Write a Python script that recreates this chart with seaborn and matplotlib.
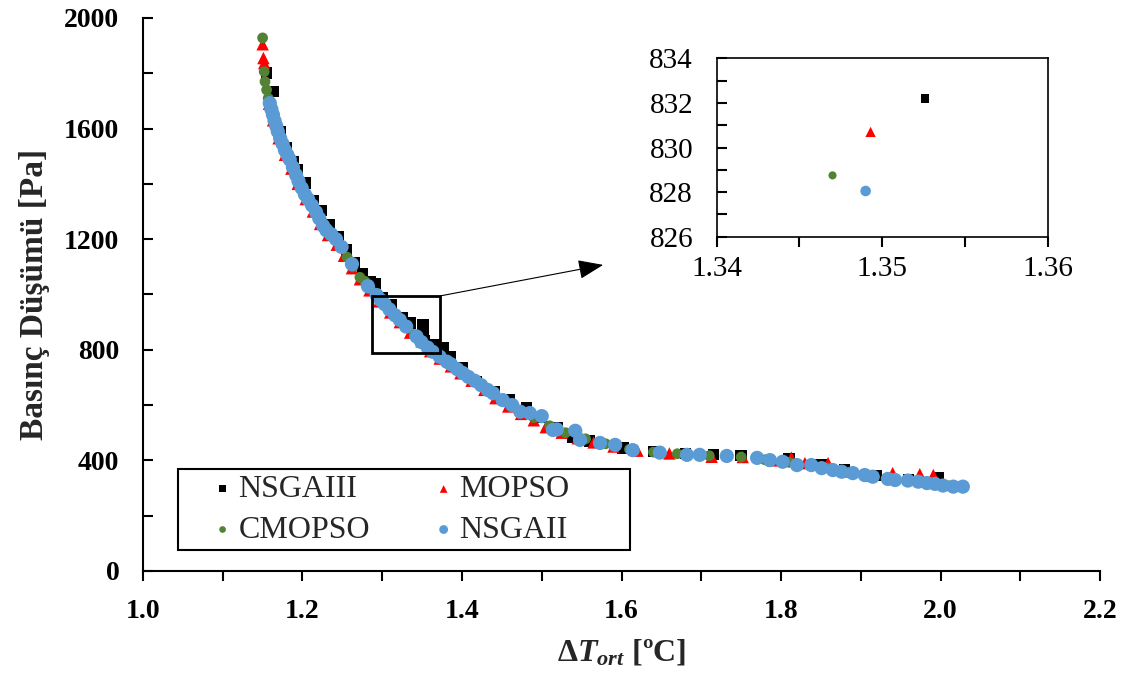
import matplotlib
matplotlib.use("Agg")
import matplotlib.pyplot as plt
from matplotlib.patches import Rectangle
from matplotlib.ticker import MultipleLocator, FormatStrFormatter
import pandas as pd
import seaborn as sns

# Pareto fronts: mean temperature difference [ºC] vs pressure drop [Pa]
nsga3_dt = [1.155, 1.163, 1.172, 1.180, 1.188, 1.194, 1.203, 1.214, 1.224, 1.234,
            1.245, 1.255, 1.265, 1.275, 1.285, 1.291, 1.300, 1.312, 1.325, 1.335,
            1.3526, 1.351, 1.351, 1.365, 1.376, 1.385, 1.400, 1.418, 1.440, 1.460,
            1.481, 1.500, 1.520, 1.539, 1.560, 1.602, 1.640, 1.680, 1.715, 1.750,
            1.810, 1.850, 1.880, 1.920, 1.960, 1.997]
nsga3_dp = [1801, 1734, 1590, 1530, 1480, 1450, 1403, 1340, 1305, 1251,
            1210, 1161, 1115, 1075, 1046, 1041, 990, 962, 915, 897,
            832.2, 890, 854, 818, 806, 774, 735, 685, 650, 618,
            589, 555, 520, 485, 470, 445, 433, 425, 420, 418,
            405, 385, 368, 345, 330, 336]

mopso_dt = [1.150, 1.151, 1.152, 1.158, 1.163, 1.170, 1.178, 1.186, 1.194, 1.204,
            1.213, 1.222, 1.232, 1.243, 1.252, 1.262, 1.272, 1.284, 1.296, 1.310,
            1.322, 1.335, 1.3493, 1.360, 1.372, 1.386, 1.398, 1.412, 1.428, 1.442,
            1.458, 1.474, 1.490, 1.505, 1.525, 1.545, 1.565, 1.590, 1.620, 1.660,
            1.713, 1.752, 1.790, 1.813, 1.830, 1.859, 1.880, 1.910, 1.940, 1.974,
            1.991]
mopso_dp = [1905, 1855, 1837, 1690, 1630, 1565, 1505, 1455, 1400, 1345,
            1300, 1255, 1215, 1180, 1140, 1095, 1055, 1015, 975, 935,
            900, 862, 830.7, 795, 768, 740, 715, 688, 655, 625,
            595, 568, 545, 520, 500, 480, 465, 450, 435, 425,
            413, 412, 400, 410, 390, 390, 360, 345, 354, 350,
            347]

cmopso_dt = [1.150, 1.152, 1.153, 1.155, 1.157, 1.160, 1.166, 1.174, 1.182, 1.190,
             1.198, 1.208, 1.215, 1.225, 1.238, 1.248, 1.256, 1.263, 1.272, 1.278,
             1.285, 1.291, 1.305, 1.328, 1.340, 1.347, 1.362, 1.375, 1.390, 1.405,
             1.420, 1.437, 1.455, 1.475, 1.490, 1.510, 1.530, 1.555, 1.580, 1.610,
             1.640, 1.670, 1.710, 1.750, 1.780, 1.810, 1.840, 1.860, 1.885, 1.910,
             1.935, 1.960, 1.990, 2.010]
cmopso_dp = [1928, 1806, 1770, 1740, 1710, 1680, 1615, 1550, 1495, 1445,
             1393, 1342, 1310, 1262, 1210, 1176, 1135, 1100, 1062, 1048,
             1020, 1002, 958, 888, 855, 828.75, 796, 768, 738, 708,
             678, 647, 612, 576, 555, 525, 500, 478, 460, 440,
             430, 424, 417, 412, 402, 393, 383, 372, 357, 343,
             333, 324, 315, 308]

nsga2_dt = [1.159, 1.161, 1.163, 1.165, 1.167, 1.169, 1.172, 1.175, 1.178, 1.181,
            1.184, 1.188, 1.192, 1.195, 1.199, 1.203, 1.207, 1.212, 1.217, 1.221,
            1.226, 1.230, 1.236, 1.242, 1.249, 1.262, 1.282, 1.293, 1.298, 1.303,
            1.309, 1.316, 1.322, 1.330, 1.343, 1.349, 1.357, 1.363, 1.372, 1.381,
            1.386, 1.394, 1.401, 1.408, 1.416, 1.424, 1.432, 1.439, 1.451, 1.463,
            1.473, 1.485, 1.500, 1.514, 1.519, 1.542, 1.548, 1.573, 1.592, 1.614,
            1.648, 1.682, 1.698, 1.732, 1.770, 1.786, 1.802, 1.820, 1.838, 1.851,
            1.865, 1.876, 1.890, 1.905, 1.915, 1.934, 1.943, 1.959, 1.972, 1.983,
            1.993, 2.003, 2.016, 2.028]
nsga2_dp = [1692, 1670, 1650, 1628, 1610, 1590, 1565, 1545, 1522, 1505,
            1488, 1460, 1432, 1410, 1385, 1362, 1345, 1322, 1298, 1275,
            1248, 1232, 1218, 1200, 1172, 1110, 1030, 998, 980, 965,
            946, 925, 908, 884, 848, 828.05, 808, 793, 775, 757,
            748, 730, 716, 702, 688, 672, 655, 643, 618, 600,
            576, 571, 560, 510, 512, 507, 474, 463, 456, 437,
            428, 420, 420, 416, 409, 401, 395, 383, 383, 372,
            365, 359, 354, 347, 341, 333, 329, 327, 323, 318,
            315, 309, 305, 305]

series_names = ["NSGAIII", "MOPSO", "CMOPSO", "NSGAII"]
series_dt = [nsga3_dt, mopso_dt, cmopso_dt, nsga2_dt]
series_dp = [nsga3_dp, mopso_dp, cmopso_dp, nsga2_dp]

# zoom window shown in the inset and the frame drawn on the main plot
zoom_box = (1.287, 788, 1.373, 995)
inset_xlim = (1.34, 1.36)
inset_ylim = (826, 834)

df = pd.concat(
    [pd.DataFrame({"dT": x, "dP": y, "algo": n})
     for n, x, y in zip(series_names, series_dt, series_dp)],
    ignore_index=True)

sns.set_theme(style="white")
plt.rcParams["font.family"] = ["Liberation Serif", "DejaVu Serif"]
plt.rcParams["mathtext.fontset"] = "custom"
plt.rcParams["mathtext.it"] = "Liberation Serif:italic:bold"
plt.rcParams["mathtext.rm"] = "Liberation Serif:bold"
plt.rcParams["mathtext.bf"] = "Liberation Serif:bold"

styles = {
    "NSGAIII": dict(marker="s", color="#000000", s=66),
    "MOPSO": dict(marker="^", color="#ff0000", s=80),
    "CMOPSO": dict(marker="o", color="#548235", s=60),
    "NSGAII": dict(marker="o", color="#5b9bd5", s=105),
}
inset_sizes = {"NSGAIII": 36, "MOPSO": 55, "CMOPSO": 34, "NSGAII": 58}

fig = plt.figure(figsize=(11.43, 6.79), dpi=100)
ax = fig.add_axes([0.1251, 0.1591, 0.8373, 0.8144])

for name in series_names:
    st = styles[name]
    sns.scatterplot(data=df[df.algo == name], x="dT", y="dP", ax=ax,
                    marker=st["marker"], color=st["color"], s=st["s"],
                    linewidth=0, edgecolor="none", label=name, legend=False)

ax.set_xlim(1.0, 2.2)
ax.set_ylim(0, 2000)
ax.xaxis.set_major_locator(MultipleLocator(0.2))
ax.xaxis.set_minor_locator(MultipleLocator(0.1))
ax.yaxis.set_major_locator(MultipleLocator(400))
ax.yaxis.set_minor_locator(MultipleLocator(200))
ax.xaxis.set_major_formatter(FormatStrFormatter("%.1f"))
for side in ("top", "right"):
    ax.spines[side].set_visible(False)
for side in ("left", "bottom"):
    ax.spines[side].set_linewidth(1.5)
    ax.spines[side].set_color("black")
ax.tick_params(axis="x", which="both", direction="out", length=7, width=1.5,
               bottom=True, pad=13, labelsize=20, colors="black")
ax.tick_params(axis="y", which="both", direction="in", length=7, width=1.5,
               left=True, pad=17, labelsize=20, colors="black")
for lab in ax.get_xticklabels() + ax.get_yticklabels():
    lab.set_fontweight("bold")

ax.set_xlabel(r"$\mathit{ΔT}_{\mathit{ort}}$ [ºC]", fontsize=23,
              fontweight="bold", labelpad=10)
ax.set_ylabel("Basınç Düşümü [Pa]", fontsize=24, fontweight="bold",
              labelpad=10)

# frame marking the zoomed region and the pointer to the inset
x0, y0, x1, y1 = zoom_box
ax.add_patch(Rectangle((x0, y0), x1 - x0, y1 - y0, fill=False,
                       edgecolor="black", linewidth=2, zorder=5))
ax.annotate("", xy=(1.577, 1107), xytext=(x1, y1),
            arrowprops=dict(arrowstyle="-|>,head_length=1.3,head_width=0.5",
                            color="black", linewidth=0.8,
                            shrinkA=0, shrinkB=0), zorder=6)

# legend: rows NSGAIII/MOPSO and CMOPSO/NSGAII inside a plain box
handles, labels = ax.get_legend_handles_labels()
order = [0, 2, 1, 3]
leg = ax.legend([handles[i] for i in order], [labels[i] for i in order],
                ncol=2, loc="upper left",
                bbox_to_anchor=(213 / 1143, 1 - 475 / 679),
                bbox_transform=fig.transFigure, fontsize=23,
                frameon=False, markerscale=0.62,
                handlelength=0.6, handletextpad=0.2, labelspacing=0.35,
                columnspacing=2.0, borderpad=0, borderaxespad=0)
fig.patches.append(Rectangle((178 / 1143, 1 - 550 / 679), 452 / 1143, 81 / 679,
                             transform=fig.transFigure, fill=False,
                             edgecolor="black", linewidth=1.5, zorder=10))

# inset: close-up of the points inside the frame
axi = fig.add_axes([0.627, 0.6514, 0.2896, 0.2627])
for name in series_names:
    st = styles[name]
    sns.scatterplot(data=df[df.algo == name], x="dT", y="dP", ax=axi,
                    marker=st["marker"], color=st["color"],
                    s=inset_sizes[name], linewidth=0, edgecolor="none",
                    legend=False)
axi.set_xlim(*inset_xlim)
axi.set_ylim(*inset_ylim)
axi.xaxis.set_major_locator(MultipleLocator(0.01))
axi.xaxis.set_minor_locator(MultipleLocator(0.005))
axi.yaxis.set_major_locator(MultipleLocator(2))
axi.yaxis.set_minor_locator(MultipleLocator(1))
axi.xaxis.set_major_formatter(FormatStrFormatter("%.2f"))
for sp in axi.spines.values():
    sp.set_linewidth(1.2)
    sp.set_color("black")
axi.tick_params(axis="x", which="both", direction="out", length=7, width=1.5,
                bottom=True, pad=7, labelsize=21, colors="black")
axi.tick_params(axis="y", which="both", direction="in", length=7, width=1.5,
                left=True, pad=17, labelsize=21, colors="black")
axi.set_xlabel("")
axi.set_ylabel("")

fig.savefig("out.png", dpi=100, facecolor="white")
